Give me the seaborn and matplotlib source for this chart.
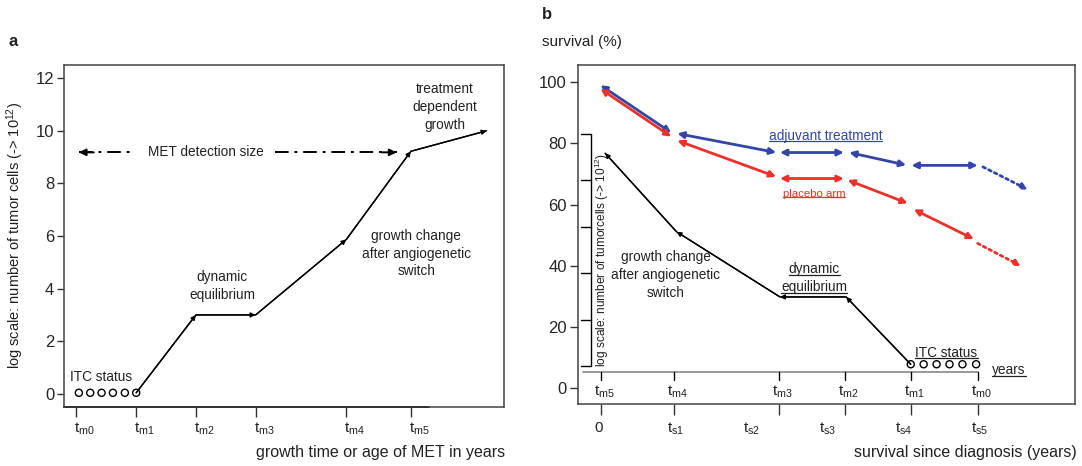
import matplotlib
matplotlib.use("Agg")
import matplotlib.pyplot as plt
from matplotlib.lines import Line2D
import seaborn as sns
import pandas as pd

# ---- panel a: growth of a metastasis ----
tm_labels_a = ["t$_{m0}$", "t$_{m1}$", "t$_{m2}$", "t$_{m3}$", "t$_{m4}$", "t$_{m5}$"]
tm_pos_a = [0, 1, 2, 3, 4.52, 5.6]
growth_x = [1, 2, 3, 4.52, 5.6, 6.87]
growth_y = [0.04, 3, 3, 5.87, 9.22, 10]
itc_x_a = [0.04, 0.23, 0.42, 0.61, 0.81, 1.0]
itc_y_a = [0.04, 0.04, 0.04, 0.04, 0.04, 0.04]
met_x = [0.04, 0.97, 3.32, 5.36]   # arrow start, gap start, gap end, arrow end
met_y = 9.18
yticks_a = [0, 2, 4, 6, 8, 10, 12]

# ---- panel b: survival ----
ts_labels = ["0", "t$_{s1}$", "t$_{s2}$", "t$_{s3}$", "t$_{s4}$", "t$_{s5}$"]
ts_pos = [0, 1, 2, 3, 4, 5]
tm_labels_b = ["t$_{m5}$", "t$_{m4}$", "t$_{m3}$", "t$_{m2}$", "t$_{m1}$", "t$_{m0}$"]
tm_pos_b = [0.03, 0.99, 2.37, 3.24, 4.11, 4.99]
cells_x = [4.10, 3.25, 2.38, 1.02, 0.08]
cells_y = [7.8, 29.8, 29.8, 51.1, 76.8]
itc_x_b = [4.10, 4.27, 4.44, 4.61, 4.78, 4.96]
itc_y_b = [7.8, 7.8, 7.8, 7.8, 7.8, 7.8]
log_ticks_b = [7.2, 22.2, 37.6, 52.6, 68.0, 83.0]
yticks_b = [0, 20, 40, 60, 80, 100]

adj_x0 = [0.02, 1.03, 2.38, 3.29, 4.11]
adj_y0 = [99.0, 83.2, 77.0, 77.0, 72.8]
adj_x1 = [0.95, 2.33, 3.22, 4.04, 4.98]
adj_y1 = [83.5, 77.0, 77.0, 72.9, 72.8]
adj_tail_x = [5.05, 5.64]
adj_tail_y = [72.3, 64.9]

pla_x0 = [0.02, 1.03, 2.38, 3.27, 4.14]
pla_y0 = [97.8, 80.9, 68.5, 68.0, 58.4]
pla_x1 = [0.95, 2.33, 3.22, 4.06, 4.93]
pla_y1 = [82.2, 69.1, 68.5, 60.4, 48.7]
pla_tail_x = [4.98, 5.55]
pla_tail_y = [47.3, 39.9]

BLUE = "#3346a8"
RED = "#e8322a"

sns.set_theme(style="ticks")
plt.rcParams["font.family"] = ["Liberation Sans", "DejaVu Sans"]
plt.rcParams["mathtext.default"] = "regular"
plt.rcParams["text.color"] = "#222222"

fig = plt.figure(figsize=(10.82, 4.66), dpi=100)
ax_a = fig.add_axes([0.0591, 0.1266, 0.4067, 0.7339])
ax_b = fig.add_axes([0.5342, 0.1330, 0.4593, 0.7275])

for ax in (ax_a, ax_b):
    for sp in ax.spines.values():
        sp.set_color("#444444")
        sp.set_linewidth(1.1)


def seg(ax, x0, y0, x1, y1, style="-|>", color="black", lw=1.0, ms=8, ls="-"):
    ax.annotate("", xy=(x1, y1), xytext=(x0, y0),
                arrowprops=dict(arrowstyle=style, color=color, lw=lw, ls=ls,
                                mutation_scale=ms, shrinkA=0, shrinkB=0))


# ---------------- panel a ----------------
ax = ax_a
df_a = pd.DataFrame({"x": growth_x, "y": growth_y})
sns.lineplot(data=df_a, x="x", y="y", ax=ax, color="black", lw=1.0, sort=False)
for i in range(len(growth_x) - 1):
    seg(ax, growth_x[i], growth_y[i], growth_x[i + 1], growth_y[i + 1], ms=7)
sns.scatterplot(x=itc_x_a, y=itc_y_a, ax=ax, marker="o", s=26,
                facecolor="none", edgecolor="black", linewidth=1.0)

dashdot = (0, (7, 3, 1.5, 3))
ax.plot(met_x[:2], [met_y, met_y], color="black", lw=1.4, ls=dashdot)
ax.plot(met_x[2:], [met_y, met_y], color="black", lw=1.4, ls=dashdot)
seg(ax, met_x[0] + 0.25, met_y, met_x[0], met_y, ms=10, lw=1.4)
seg(ax, met_x[3] - 0.25, met_y, met_x[3], met_y, ms=10, lw=1.4)
ax.text(2.17, met_y, "MET detection size", ha="center", va="center", fontsize=9.8)

ax.text(0.41, 0.65, "ITC status", ha="center", va="center", fontsize=9.8)
ax.text(2.44, 4.1, "dynamic\nequilibrium", ha="center", va="center", fontsize=9.8,
        linespacing=1.4)
ax.text(5.69, 5.33, "growth change\nafter angiogenetic\nswitch", ha="center",
        va="center", fontsize=9.8, linespacing=1.35)
ax.text(6.17, 10.9, "treatment\ndependent\ngrowth", ha="center", va="center",
        fontsize=9.8, linespacing=1.35)

ax.set_xlim(-0.21, 7.16)
ax.set_ylim(-0.5, 12.5)
ax.set_yticks(yticks_a)
ax.tick_params(axis="y", length=5, width=1, pad=2, labelsize=12, color="#333333")
ax.set_xticks(tm_pos_a)
ax.set_xticklabels([])
ax.tick_params(axis="x", length=7, width=1, color="#333333")
for x, lab in zip(tm_pos_a, tm_labels_a):
    ax.annotate(lab, xy=(x, 0), xycoords=("data", "axes fraction"),
                xytext=(-1.5, -10), textcoords="offset points",
                ha="left", va="top", fontsize=11)
ax.plot([-0.21, 5.91], [-0.5, -0.5], color="black", lw=1.4, clip_on=False)
ax.set_xlabel("")
ax.set_ylabel("")

# ---------------- panel b ----------------
ax = ax_b
df_b = pd.DataFrame({"x": cells_x, "y": cells_y})
sns.lineplot(data=df_b, x="x", y="y", ax=ax, color="black", lw=1.0, sort=False)
for i in range(len(cells_x) - 1):
    seg(ax, cells_x[i], cells_y[i], cells_x[i + 1], cells_y[i + 1], ms=7)
sns.scatterplot(x=itc_x_b, y=itc_y_b, ax=ax, marker="o", s=26,
                facecolor="none", edgecolor="black", linewidth=1.0)

dots = (0, (1, 1.3))
for x0, y0, x1, y1 in zip(adj_x0, adj_y0, adj_x1, adj_y1):
    seg(ax, x0, y0, x1, y1, style="<|-|>", color=BLUE, lw=2.0, ms=9)
seg(ax, adj_tail_x[0], adj_tail_y[0], adj_tail_x[1], adj_tail_y[1],
    color=BLUE, lw=2.0, ms=9, ls=dots)
for x0, y0, x1, y1 in zip(pla_x0, pla_y0, pla_x1, pla_y1):
    seg(ax, x0, y0, x1, y1, style="<|-|>", color=RED, lw=2.0, ms=9)
seg(ax, pla_tail_x[0], pla_tail_y[0], pla_tail_x[1], pla_tail_y[1],
    color=RED, lw=2.0, ms=9, ls=dots)

# inner tumour-cell axes
ax.plot([-0.11, -0.11], [log_ticks_b[0], log_ticks_b[-1]], color="black", lw=1.0)
for y in log_ticks_b:
    ax.plot([-0.24, -0.11], [y, y], color="black", lw=1.0)
ax.text(0.04, 42, "log scale: number of tumorcells (-> 10$^{12}$)", rotation=90,
        ha="center", va="center", fontsize=8.6)
ax.plot([-0.21, tm_pos_b[-1]], [5.2, 5.2], color="#888888", lw=1.2)
for x, lab in zip(tm_pos_b, tm_labels_b):
    ax.plot([x, x], [5.2, 2.8], color="black", lw=1.0)
    ax.annotate(lab, xy=(x, 5.2), xytext=(-5.5, -8), textcoords="offset points",
                ha="left", va="top", fontsize=11)

t_adj = ax.text(2.98, 82.4, "adjuvant treatment", color=BLUE, ha="center",
                va="center", fontsize=9.8)
t_pla = ax.text(2.83, 63.6, "placebo arm", color=RED, ha="center", va="center",
                fontsize=8.2)
t_dyn1 = ax.text(2.83, 38.9, "dynamic", ha="center", va="center", fontsize=9.8)
t_dyn2 = ax.text(2.83, 33.0, "equilibrium", ha="center", va="center", fontsize=9.8)
t_itc = ax.text(4.57, 11.5, "ITC status", ha="center", va="center", fontsize=9.8)
t_yrs = ax.text(5.39, 5.9, "years", ha="center", va="center", fontsize=9.8)
ax.text(0.88, 37, "growth change\nafter angiogenetic\nswitch", ha="center",
        va="center", fontsize=9.8, linespacing=1.35)

ax.set_xlim(-0.276, 6.26)
ax.set_ylim(-5.2, 105.6)
ax.set_yticks(yticks_b)
ax.tick_params(axis="y", length=6, width=1, pad=2, labelsize=12, color="#333333")
ax.set_xticks(ts_pos)
ax.set_xticklabels([])
ax.tick_params(axis="x", which="major", length=0)
ax.set_xticks(tm_pos_b, minor=True)
ax.tick_params(axis="x", which="minor", length=8, width=1, color="#333333")
for x, lab in zip(ts_pos, ts_labels):
    dx = 0 if lab == "0" else -5.8
    ha = "center" if lab == "0" else "left"
    ax.annotate(lab, xy=(x, 0), xycoords=("data", "axes fraction"),
                xytext=(dx, -12.2), textcoords="offset points",
                ha=ha, va="top", fontsize=11)
ax.set_xlabel("")
ax.set_ylabel("")

# ---------------- figure texts ----------------
fig.text(0.0074, 0.91, "a", fontsize=12, fontweight="bold", va="center")
fig.text(0.501, 0.968, "b", fontsize=12, fontweight="bold", va="center")
fig.text(0.501, 0.9105, "survival (%)", fontsize=11, va="center")
fig.text(0.0143, 0.4936, "log scale: number of tumor cells (-> 10$^{12}$)",
         rotation=90, ha="center", va="center", fontsize=10.5)
fig.text(0.4667, 0.028, "growth time or age of MET in years", ha="right",
         va="center", fontsize=11.5)
fig.text(0.9954, 0.028, "survival since diagnosis (years)", ha="right",
         va="center", fontsize=11.5)

# underline some labels
fig.canvas.draw()
renderer = fig.canvas.get_renderer()
inv = fig.transFigure.inverted()
for t in (t_adj, t_pla, t_dyn1, t_dyn2, t_itc, t_yrs):
    bb = t.get_window_extent(renderer)
    (x0, y0), (x1, _) = inv.transform([[bb.x0, bb.y0 + 1.5], [bb.x1, bb.y1]])
    fig.add_artist(Line2D([x0, x1], [y0, y0], color=t.get_color(), lw=0.9))

fig.savefig("out.png", dpi=100)
